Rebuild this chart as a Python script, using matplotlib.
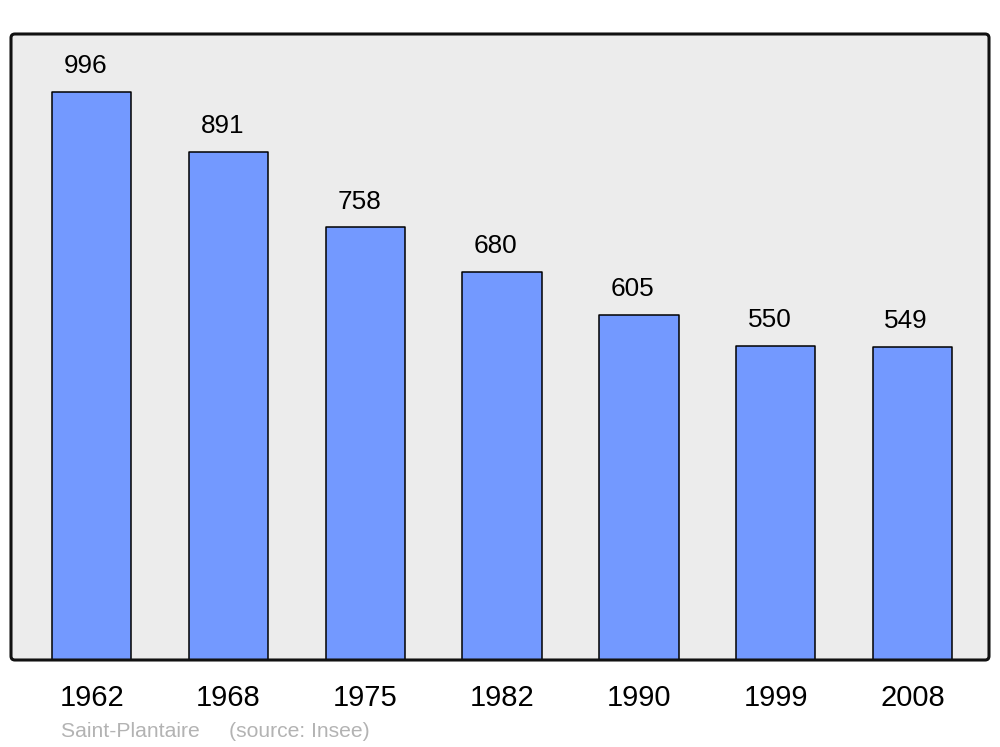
import numpy as np
import matplotlib.pyplot as plt
from matplotlib.patches import FancyBboxPatch

plt.rcParams['font.family'] = ['Liberation Sans', 'DejaVu Sans']

years = ["1962", "1968", "1975", "1982", "1990", "1999", "2008"]
population = [996, 891, 758, 680, 605, 550, 549]

fig = plt.figure(figsize=(10, 7.47), dpi=100)
ax = fig.add_axes([0.011, 87 / 747, 0.978, 626 / 747])
ax.set_facecolor("#ececec")

x = np.arange(len(years))
bars = ax.bar(x, population, width=0.58, color="#7399ff",
              edgecolor="black", linewidth=1.1, zorder=2)
for b in bars:
    b.set_joinstyle("round")

for xi, v in zip(x, population):
    ax.annotate(str(v), (xi, v), xytext=(-4.5, 13.5), textcoords="offset points",
                ha="center", va="baseline", fontsize=18.8)

ax.set_xlim(-0.59, 6.56)
ax.set_ylim(0, 1097)
ax.set_xticks(x)
ax.set_xticklabels(years, fontsize=21)
ax.tick_params(axis="x", length=0, pad=17)
ax.set_yticks([])

for s in ax.spines.values():
    s.set_visible(False)

frame = FancyBboxPatch((0, 0), 1, 1, boxstyle="round,pad=0,rounding_size=0.004",
                       mutation_aspect=978 / 626, transform=ax.transAxes,
                       fill=False, edgecolor="#111111", linewidth=2.2,
                       clip_on=False, zorder=5)
ax.add_patch(frame)

fig.text(0.061, 1 - 737 / 747, "Saint-Plantaire     (source: Insee)",
         fontsize=15.2, color="#b3b3b3", va="baseline")

fig.savefig("out.png")
